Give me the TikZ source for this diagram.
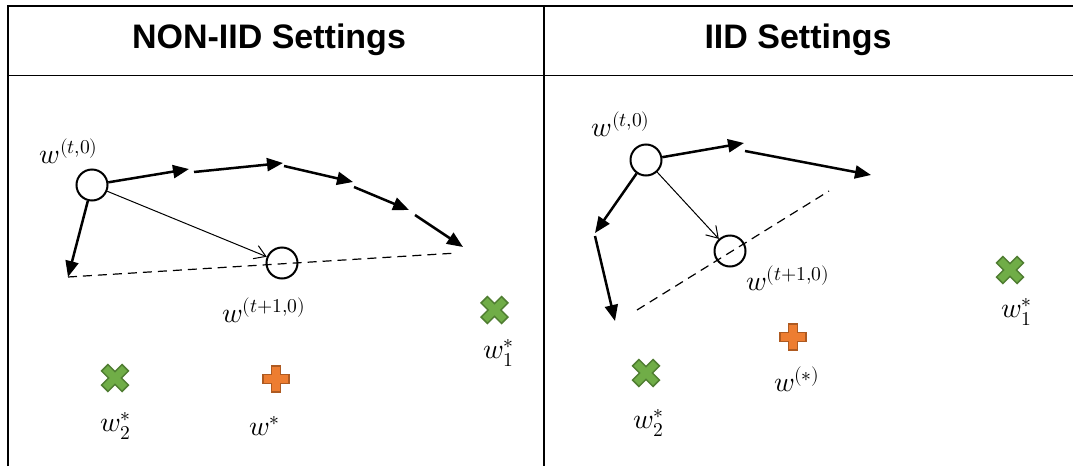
\documentclass[tikz,border=0pt]{standalone}
\usepackage{fontspec}
\usepackage{unicode-math}
\setmathfont{Latin Modern Math}
\setsansfont{Liberation Sans}
\usetikzlibrary{arrows.meta}
\definecolor{xfill}{HTML}{70AD47}
\definecolor{xline}{HTML}{507E32}
\definecolor{pfill}{HTML}{ED7D31}
\definecolor{pline}{HTML}{AE5A21}
\tikzset{
  frame/.style={line width=2.3pt, black},
  rule/.style={line width=1pt, black},
  title/.style={font=\sffamily\bfseries\fontsize{34}{36}\selectfont, inner sep=0pt},
  lbl/.style={font=\fontsize{28}{30}\selectfont, inner sep=0pt},
  iter/.style={circle, draw, line width=2pt, minimum size=31pt, inner sep=0pt},
  stepar/.style={line width=2.5pt, -{Triangle[length=16pt,width=13pt]}},
  avgar/.style={line width=1pt, -{Straight Barb[length=11pt,width=14pt,line width=1pt]}},
  gap/.style={dashed, line width=1.2pt, dash pattern=on 9pt off 6pt},
  optx/.pic={\filldraw[fill=xfill, draw=xline, line width=1.5pt, rotate=45]
     (-4.5,-14.5) -- (4.5,-14.5) -- (4.5,-4.5) -- (14.5,-4.5) -- (14.5,4.5) -- (4.5,4.5)
     -- (4.5,14.5) -- (-4.5,14.5) -- (-4.5,4.5) -- (-14.5,4.5) -- (-14.5,-4.5) -- (-4.5,-4.5) -- cycle;},
  optp/.pic={\filldraw[fill=pfill, draw=pline, line width=1.5pt]
     (-4.5,-13) -- (4.5,-13) -- (4.5,-4.5) -- (13,-4.5) -- (13,4.5) -- (4.5,4.5)
     -- (4.5,13) -- (-4.5,13) -- (-4.5,4.5) -- (-13,4.5) -- (-13,-4.5) -- (-4.5,-4.5) -- cycle;}
}
\begin{document}
\begin{tikzpicture}[x=1pt, y=-1pt]
\useasboundingbox (0,0) rectangle (1073,466);

% table frame
\draw[frame] (8,466) -- (8,6) -- (1073,6);
\draw[frame] (544,6) -- (544,466);
\draw[rule] (8,75.5) -- (1073,75.5);
\node[title] (tl) at (269,40) {NON-IID Settings};
\node[title] (tr) at (798,40) {IID Settings};

% ---------- left panel: non-IID ----------
\node[iter] (a0) at (92,185) {};
\node[iter] (a1) at (282,263) {};
\node[lbl] (la0) at (69,151) {$w^{(t,0)}$};
\node[lbl] (la1) at (264,310) {$w^{(t+1,0)}$};

\coordinate (aL) at (68,277);
\coordinate (p1) at (189,169);
\coordinate (q1) at (194,172);
\coordinate (p2) at (283,163);
\coordinate (q2) at (284,166);
\coordinate (p3) at (353,182);
\coordinate (q3) at (354,187);
\coordinate (p4) at (409,210);
\coordinate (q4) at (415,215);
\coordinate (aR) at (463,247);
\coordinate (dR) at (457,253);

\draw[stepar] (a0) -- (aL);
\draw[stepar] (a0) -- (p1);
\draw[stepar] (q1) -- (p2);
\draw[stepar] (q2) -- (p3);
\draw[stepar] (q3) -- (p4);
\draw[stepar] (q4) -- (aR);
\draw[avgar] (a0) -- (a1);
\draw[gap] (aL) -- (dR);

\pic (ax1) at (494.5,310) {optx};
\pic (ax2) at (115,378) {optx};
\pic (ap) at (276,379) {optp};
\node[lbl] (lax1) at (499,353) {$w_1^*$};
\node[lbl] (lax2) at (116,426) {$w_2^*$};
\node[lbl] (lap) at (265,426) {$w^*$};

% ---------- right panel: IID ----------
\node[iter] (b0) at (646,160) {};
\node[iter] (b1) at (730,251) {};
\node[lbl] (lb0) at (621,124) {$w^{(t,0)}$};
\node[lbl] (lb1) at (788,278) {$w^{(t+1,0)}$};

\coordinate (r1) at (744,143);
\coordinate (s1) at (745,151);
\coordinate (r2) at (871,175);
\coordinate (r3) at (595,233);
\coordinate (s3) at (595,236);
\coordinate (r4) at (615,321);
\coordinate (d1) at (637,310);
\coordinate (d2) at (829,191);

\draw[stepar] (b0) -- (r1);
\draw[stepar] (s1) -- (r2);
\draw[stepar] (b0) -- (r3);
\draw[stepar] (s3) -- (r4);
\draw[avgar] (b0) -- (b1);
\draw[gap] (d1) -- (d2);

\pic (bx1) at (1010,270) {optx};
\pic (bx2) at (646,373) {optx};
\pic (bp) at (793,337) {optp};
\node[lbl] (lbx1) at (1017,312) {$w_1^*$};
\node[lbl] (lbx2) at (649,423) {$w_2^*$};
\node[lbl] (lbp) at (797,379) {$w^{(*)}$};
\end{tikzpicture}
\end{document}
